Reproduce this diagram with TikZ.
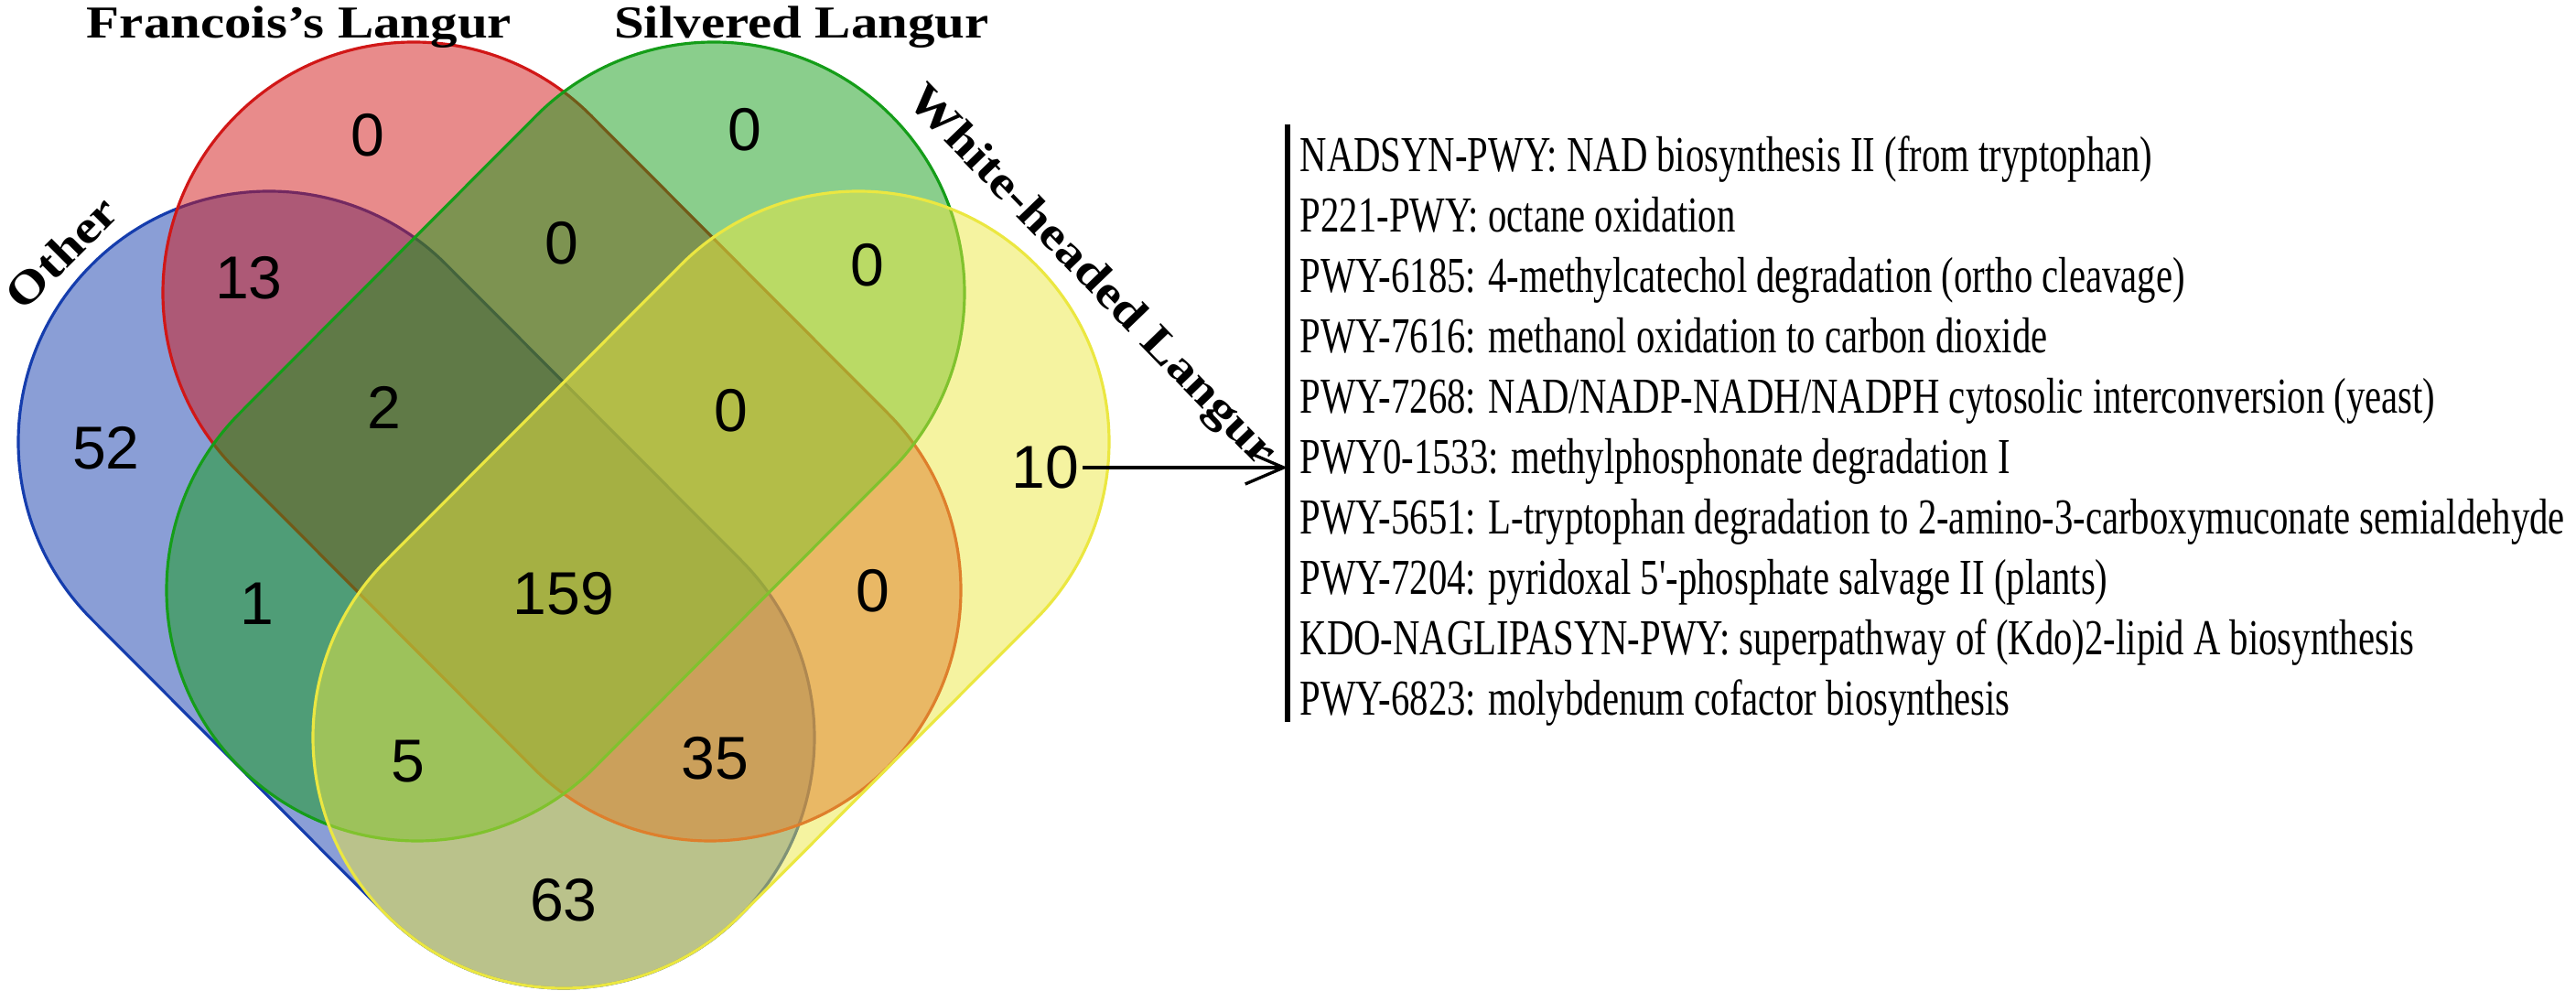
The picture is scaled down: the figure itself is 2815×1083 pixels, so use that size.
\documentclass[tikz,border=0pt]{standalone}
\usepackage{fontspec}
\setmainfont{Liberation Serif}
\newfontfamily\numfont{Liberation Sans}
\newfontfamily\setfont[FakeStretch=1.18]{Liberation Serif Bold}
\newfontfamily\pwyfont[FakeStretch=0.74,Ligatures=TeXOff]{Liberation Serif}
\usetikzlibrary{calc,arrows.meta}
\definecolor{otherblue}{RGB}{21,61,173}
\definecolor{francred}{RGB}{209,23,23}
\definecolor{silvgreen}{RGB}{21,157,25}
\definecolor{whiteyellow}{RGB}{235,231,65}
\newcommand{\lobeR}{274}
% one set: two caps joined by tangent lines
\newcommand{\lobe}[4]{%
  \draw[#1] ($(#2)+({#4-90}:\lobeR)$) -- ($(#3)+({#4-90}:\lobeR)$)
    arc[start angle=#4-90, end angle=#4+90, radius=\lobeR]
    -- ($(#2)+({#4+90}:\lobeR)$)
    arc[start angle=#4+90, end angle=#4+270, radius=\lobeR] -- cycle;}

\begin{document}
\begin{tikzpicture}[x=0.01cm, y=-0.01cm,
  lobe/.style={fill opacity=0.5, line width=0.9pt},
  tally/.style={font=\numfont\fontsize{18.8}{20}\selectfont, inner sep=0pt},
  setlabel/.style={font=\setfont\fontsize{14.2}{16}\selectfont, inner sep=0pt},
  pwy/.style={font=\pwyfont\fontsize{15.65}{18}\selectfont, inner sep=0pt, anchor=base west},
  pointer/.style={line width=0.95pt, -{Straight Barb[length=4.2mm,width=3.6mm]}},
  listbar/.style={line width=1.85pt}]
\useasboundingbox (0,0) rectangle (2815,1083);

\coordinate (oTop) at (294,483); \coordinate (oBot) at (616,806);
\coordinate (fTop) at (452,320); \coordinate (fBot) at (776,645);
\coordinate (sTop) at (780,320); \coordinate (sBot) at (456,645);
\coordinate (wTop) at (938,483); \coordinate (wBot) at (616,806);

\lobe{lobe, draw=otherblue, fill=otherblue}{oTop}{oBot}{45}
\lobe{lobe, draw=francred, fill=francred}{fTop}{fBot}{45}
\lobe{lobe, draw=silvgreen, fill=silvgreen}{sTop}{sBot}{135}
\lobe{lobe, draw=whiteyellow, fill=whiteyellow}{wTop}{wBot}{135}

% set names
\node[setlabel, anchor=base] (fLab) at (327,42) {Francois’s Langur};
\node[setlabel, anchor=base] (sLab) at (876,42) {Silvered Langur};
\node[setlabel, anchor=base, rotate=45] (oLab) at (79,288) {Other};
\node[setlabel, anchor=base, rotate=-46] (wLab) at (1183,311) {White-headed Langur};

% counts
\foreach \nm/\pos/\val in {f/{402,148}/0, s/{814,142}/0, of/{272,304}/13,
    fs/{614,266}/0, sw/{948,290}/0, o/{116,490}/52, ofs/{420,445}/2,
    fsw/{799,449}/0, w/{1142,511}/10, os/{281,660}/1, ofsw/{616,649}/159,
    fw/{954,646}/0, osw/{446,832}/5, ofw/{781,829}/35, ow/{616,984}/63}
  \node[tally] (\nm) at (\pos) {\val};

% pathway list
\coordinate (listTop) at (1407,136);
\coordinate (listBot) at (1407,789);
\draw[listbar] (listTop) -- (listBot);
\foreach \txt [count=\i from 0] in {
    NADSYN-PWY: NAD biosynthesis II (from tryptophan),
    P221-PWY: octane oxidation,
    PWY-6185: 4-methylcatechol degradation (ortho cleavage),
    PWY-7616: methanol oxidation to carbon dioxide,
    PWY-7268: NAD/NADP-NADH/NADPH cytosolic interconversion (yeast),
    PWY0-1533: methylphosphonate degradation I,
    PWY-5651: L-tryptophan degradation to 2-amino-3-carboxymuconate semialdehyde,
    PWY-7204: pyridoxal 5'-phosphate salvage II (plants),
    KDO-NAGLIPASYN-PWY: superpathway of (Kdo)2-lipid A biosynthesis,
    PWY-6823: molybdenum cofactor biosynthesis}
  \node[pwy] (pwy\i) at (1420,{188+66*\i}) {\txt};

\draw[pointer] ([xshift=1pt]w.east) -- (w.east -| listTop);
\end{tikzpicture}
\end{document}
